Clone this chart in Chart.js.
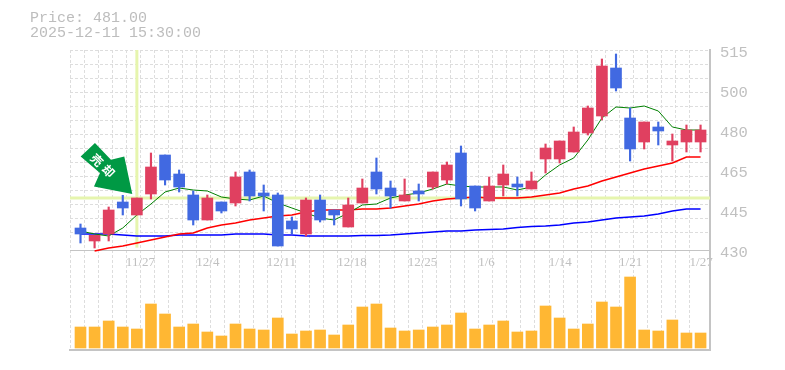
<!DOCTYPE html>
<html><head><meta charset="utf-8">
<style>html,body{margin:0;padding:0;background:#fff}canvas{display:block}</style>
<script src="https://cdn.jsdelivr.net/npm/chart.js@4"></script></head>
<body><canvas id="c" width="785" height="370" style="width:785px;height:370px"></canvas>
<script>
const infoLines = ["Price: 481.00", "2025-12-11 15:30:00"];
const arrowText = ["売", "却"];
const xTickIdx = [4, 9, 14, 19, 24, 29, 34, 39, 44];
const xTickLabels = ["11/27", "12/4", "12/11", "12/18", "12/25", "1/6", "1/14", "1/21", "1/27"];
const yTickValues = [430, 447, 464, 481, 498, 515];
const yTickLabels = ["430", "445", "465", "480", "500", "515"];
const crossIdx = 4;
const crossPrice = 452.1;
const opens = [439.35,433.83,436.8,450.4,444.88,453.8,470.38,462.3,453.38,442.75,450.4,449.98,463.15,454.23,453.38,442.33,436.8,451.25,447,439.78,449.98,463.15,456.35,450.83,455.08,456.78,459.75,471.23,457.2,450.83,457.63,458.05,455.93,468.68,468.68,471.65,479.73,486.95,507.35,486.1,475.9,482.28,474.63,475.9,475.9];
const closes = [436.8,436.25,447,447.85,452.1,465.28,459.75,456.78,442.75,452.1,446.58,461.03,452.95,452.95,431.7,438.93,451.25,442.75,444.88,449.13,456.35,455.93,452.95,453.38,453.8,463.15,466.13,451.68,447.85,457.2,462.3,456.78,459.33,473.35,476.33,480.15,490.35,508.2,498.85,472.93,484.4,480.58,476.33,481,481];
const highs = [441.05,436.25,448.28,453.25,452.1,471.23,470.38,464,455.08,453.38,450.4,463.15,464,457.63,454.23,444.03,452.1,453.38,447,452.1,460.18,469.1,459.33,460.18,458.05,463.15,467.4,474.2,457.2,461.03,466.13,461.03,463.15,475.05,476.33,482.28,491.2,511.18,513.3,490.35,484.4,484.4,479.3,483.13,483.13];
const lows = [432.97,430.85,433.83,444.88,444.88,451.68,457.63,454.65,440.63,442.75,445.73,448.7,450.83,446.58,431.7,436.8,435.95,441.9,440.63,439.78,449.98,453.8,447.85,450.83,450.83,455.93,458.05,448.7,446.58,450.83,452.95,452.95,455.93,462.73,466.98,471.65,478.88,485.25,497.58,467.83,472.93,474.63,467.83,471.65,471.65];
const maShort = [438.08,436.8,435.95,439.35,444.88,449.55,454.65,456.35,455.5,455.08,452.53,451.68,451.25,452.95,449.98,447.85,445.73,443.6,442.75,445.73,449.13,449.55,452.1,453.38,454.23,455.93,458.05,457.2,456.78,456.78,456.78,455.5,456.78,461.88,466.13,469.1,476.75,486.1,490.78,490.35,491.2,489.08,482.28,481,481];
const maMid = [null,429.58,430.85,431.7,432.98,434.25,435.53,436.8,437.23,439.35,440.63,441.48,442.75,443.6,444.45,444.88,446.15,447,447,447,447.43,447.43,447.85,448.7,449.55,450.83,451.68,452.1,452.53,452.1,452.1,452.1,452.53,453.38,454.23,455.93,457.2,459.33,461.03,462.73,464.43,465.7,466.98,469.53,469.53];
const maLong = [436.8,436.8,436.8,436.38,435.95,435.95,435.95,436.38,436.38,436.38,436.38,436.8,436.8,436.8,436.38,436.38,435.95,435.95,435.95,435.95,436.16,436.16,436.38,436.8,437.23,437.65,438.08,438.08,438.5,438.71,438.93,439.56,439.99,440.2,440.63,441.48,441.9,442.75,443.6,444.03,444.45,445.3,446.58,447.43,447.43];
const volumes = [21,21,27,21,19,44,34,21,24,16,12,24,19,18,30,14,17,18,13,23,41,44,20,17,18,21,23,35,19,23,27,16,17,42,30,19,24,46,41,71,18,17,28,15,15];

const RED = "#e04060", BLUE = "#4169e1", GREY = "#c4c4c4", GRID = "#dddddd";
const up = closes.map((c, i) => c >= opens[i]);
const candleColors = up.map(u => u ? RED : BLUE);
const XMIN = -0.745, XMAX = 44.67;
const line = (arr, color, w, order) => ({
  type: "line", data: arr.map((v, i) => ({x: i, y: v})).filter(p => p.y !== null),
  borderColor: color, borderWidth: w, pointRadius: 0, tension: 0, order, xAxisID: "x", yAxisID: "y", fill: false
});
const cross = (pts) => ({
  type: "line", data: pts, borderColor: "#e6f5ae", borderWidth: 3, pointRadius: 0, order: 20, xAxisID: "x", yAxisID: "y", fill: false
});

const overlay = {
  id: "overlay",
  afterDatasetsDraw(chart) {
    const {ctx, scales} = chart;
    const tx = scales.x.getPixelForValue(crossIdx) - 4.6;
    const ty = scales.y.getPixelForValue(crossPrice) - 4;
    ctx.save();
    ctx.fillStyle = "#009944";
    ctx.beginPath();
    ctx.moveTo(tx, ty);
    ctx.lineTo(tx - 38.3, ty - 7.6);
    ctx.lineTo(tx - 32.3, ty - 21);
    ctx.lineTo(tx - 51.6, ty - 37.6);
    ctx.lineTo(tx - 37.3, ty - 51);
    ctx.lineTo(tx - 21.3, ty - 34.3);
    ctx.lineTo(tx - 8, ty - 37.6);
    ctx.closePath();
    ctx.fill();
    ctx.fillStyle = "#fff";
    ctx.font = "bold 12px 'Noto Sans CJK JP'";
    ctx.textAlign = "center";
    ctx.textBaseline = "middle";
    [[-35.4,-34],[-23.8,-23]].forEach((o, i) => {
      ctx.save();
      ctx.translate(tx + o[0], ty + o[1]);
      ctx.rotate(Math.PI / 4);
      ctx.fillText(arrowText[i], 0, 0);
      ctx.restore();
    });
    ctx.restore();
    ctx.save();
    ctx.fillStyle = "#bdbdbd";
    ctx.font = "15px 'Liberation Mono'";
    ctx.textAlign = "left";
    ctx.textBaseline = "middle";
    infoLines.forEach((t, i) => ctx.fillText(t, 30, 18 + i * 15));
    ctx.restore();
  }
};

new Chart(document.getElementById("c"), {
  data: {
    datasets: [
      {type: "bar", data: opens.map((o, i) => ({x: i, y: [o, closes[i]]})), backgroundColor: candleColors, barThickness: 11, grouped: false, order: 2, xAxisID: "x", yAxisID: "y"},
      {type: "bar", data: highs.map((h, i) => ({x: i, y: [lows[i], h]})), backgroundColor: candleColors, barThickness: 1.5, grouped: false, order: 3, xAxisID: "x", yAxisID: "y"},
      {type: "bar", data: volumes.map((v, i) => ({x: i, y: v})), backgroundColor: "#ffb733", barThickness: 11, grouped: false, order: 4, xAxisID: "x", yAxisID: "yv"},
      line(maShort, "#008000", 1, 5),
      line(maMid, "#ff0000", 1.6, 6),
      line(maLong, "#0000ff", 1.6, 7),
      cross([{x: XMIN, y: crossPrice}, {x: XMAX, y: crossPrice}]),
      cross([{x: crossIdx, y: 431}, {x: crossIdx, y: 515}])
    ]
  },
  plugins: [overlay],
  options: {
    responsive: false, animation: false, devicePixelRatio: 1,
    layout: {padding: {left: 70, top: 50, right: 0, bottom: 20}},
    plugins: {legend: {display: false}, tooltip: {enabled: false}, title: {display: false}},
    scales: {
      x: {
        axis: "x", type: "linear", position: {y: 430}, min: XMIN, max: XMAX, offset: false,
        afterBuildTicks: s => { s.ticks = xTickIdx.map(v => ({value: v})); },
        grid: {display: false, drawTicks: false, offset: false},
        border: {display: true, color: GREY, width: 1},
        ticks: {
          autoSkip: false, maxRotation: 0, minRotation: 0, align: "start", labelOffset: -11, padding: 5,
          color: "#c0c0c0", font: {family: "'Liberation Serif'", size: 13},
          callback: v => xTickLabels[xTickIdx.indexOf(v)]
        }
      },
      xg: {
        axis: "x", type: "linear", position: "bottom", min: 0, max: 45.42, offset: false,
        grid: {display: true, color: GRID, drawTicks: false, offset: false},
        border: {display: true, color: GREY, width: 2, dash: [3, 2]},
        ticks: {display: false, stepSize: 1, autoSkip: false}
      },
      y: {
        axis: "y", type: "linear", position: "right", min: 387.5, max: 515,
        afterBuildTicks: s => { s.ticks = yTickValues.map(v => ({value: v})); },
        afterFit: s => { s.width = 75; },
        grid: {display: false, drawTicks: false},
        border: {display: true, color: GREY, width: 2},
        ticks: {
          padding: 10, labelOffset: 3, color: "#c0c0c0", autoSkip: false,
          font: {family: "'Liberation Mono'", size: 15.5},
          callback: v => yTickLabels[yTickValues.indexOf(v)]
        }
      },
      yv: {axis: "y", type: "linear", display: false, position: "left", min: -2, max: 298},
      yg: {
        axis: "y", type: "linear", position: "left", min: 0, max: 21.32, reverse: true,
        afterBuildTicks: s => { s.ticks = s.ticks.filter(t => t.value <= 13); },
        afterFit: s => { s.width = 0; },
        grid: {display: true, color: GRID, drawTicks: false},
        border: {display: false, dash: [3, 2]},
        ticks: {display: false, stepSize: 1, autoSkip: false}
      }
    }
  }
});
</script></body></html>
